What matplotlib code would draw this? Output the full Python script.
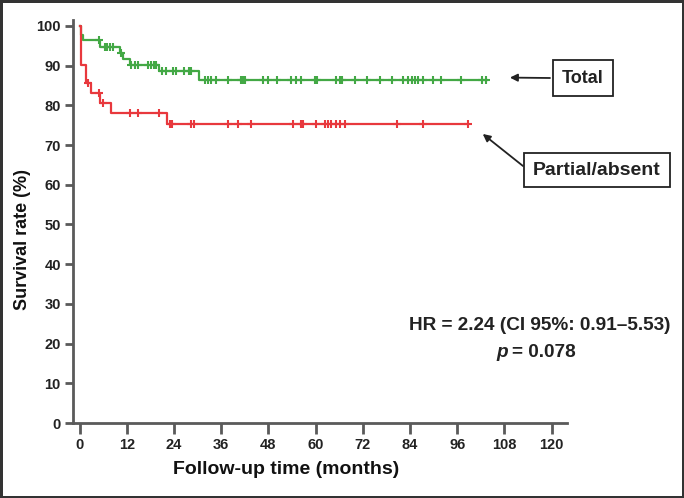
import numpy as np
import matplotlib.pyplot as plt

# Kaplan-Meier steps (months, survival %)
total_drop_t = [0.3, 0.9, 5.2, 10.2, 11.0, 12.7, 20.2, 30.3]
total_surv = [97.8, 96.4, 94.8, 93.2, 91.8, 90.2, 88.6, 86.5]
total_end = 103.6
total_cens = [4.9, 6.4, 7.0, 7.6, 8.4, 10.6, 13.1, 14.0, 14.8, 17.3, 18.2, 18.8, 19.5,
              21.0, 22.0, 23.7, 24.6, 26.5, 27.8, 28.4, 31.8, 32.7, 33.5, 34.8, 37.7,
              41.1, 41.6, 42.0, 46.6, 47.9, 50.2, 53.8, 55.1, 56.4, 59.8, 60.3, 65.3,
              66.2, 66.8, 70.0, 73.0, 76.3, 79.3, 82.3, 83.5, 84.4, 85.2, 86.1, 87.3,
              89.9, 92.0, 97.0, 102.4, 103.4]

part_drop_t = [0.3, 1.5, 2.8, 5.3, 8.1, 22.3]
part_surv = [90.2, 85.6, 83.1, 80.6, 78.0, 75.2]
part_end = 98.8
part_cens = [2.2, 5.0, 5.9, 12.9, 14.8, 20.3, 23.0, 23.4, 28.4, 29.0, 37.7, 40.3, 43.7,
             54.3, 56.4, 56.8, 60.0, 62.3, 63.2, 64.0, 65.3, 66.2, 67.4, 80.7, 87.4, 98.8]

xticks = list(range(0, 121, 12))
yticks = list(range(0, 101, 10))

green = '#43a845'
red = '#e8383d'
axcol = '#5a5a5a'
txtcol = '#222222'

plt.rcParams['font.family'] = ['Liberation Sans', 'DejaVu Sans']

fig = plt.figure(figsize=(6.84, 4.98), dpi=100, linewidth=2.5, edgecolor='#333333')
ax = fig.add_axes([0.1072, 0.1506, 0.7222, 0.8092])


def km(ax, drops, surv, end, cens, color):
    xs = np.array([0] + drops + [end])
    ys = np.array([100] + surv + [surv[-1]])
    ax.step(xs, ys, where='post', color=color, lw=1.6)
    idx = np.searchsorted(xs, cens, side='right') - 1
    ax.plot(cens, ys[idx], ls='none', marker='+', ms=6, mew=1.5, color=color)


km(ax, total_drop_t, total_surv, total_end, total_cens, green)
km(ax, part_drop_t, part_surv, part_end, part_cens, red)

ax.set_xlim(-1.6, 124)
ax.set_ylim(0, 101.5)
ax.set_xticks(xticks)
ax.set_yticks(yticks)
for s in ['top', 'right']:
    ax.spines[s].set_visible(False)
for s in ['left', 'bottom']:
    ax.spines[s].set_color(axcol)
    ax.spines[s].set_linewidth(2)
ax.tick_params(colors=axcol, width=2, labelsize=10.5, labelcolor=txtcol)
ax.tick_params(axis='x', length=8, pad=3)
ax.tick_params(axis='y', length=6, pad=3)
for lab in ax.get_xticklabels() + ax.get_yticklabels():
    lab.set_fontweight('bold')

ax.set_xlabel('Follow-up time (months)', fontsize=14, fontweight='bold', color='#111111')
ax.set_ylabel('Survival rate (%)', fontsize=13, fontweight='bold', color='#111111')
ax.xaxis.set_label_coords(0.431, -0.095)
ax.yaxis.set_label_coords(-0.085, 0.455)

box = dict(boxstyle='square,pad=0.5', fc='white', ec=txtcol, lw=1.3)
arrow = dict(arrowstyle='-|>', color=txtcol, lw=1.3, shrinkA=0, shrinkB=0, mutation_scale=11)

fig.text(562, 498 - 78, 'Total', transform=None, fontsize=13, fontweight='bold',
         color=txtcol, ha='left', va='center', bbox=box)
ax.annotate('', xy=(109.4, 87.0), xycoords='data', xytext=(550, 498 - 78),
            textcoords='figure pixels', arrowprops=arrow)

box2 = dict(boxstyle='square,pad=0.45', fc='white', ec=txtcol, lw=1.3)
fig.text(533, 498 - 170, 'Partial/absent', transform=None, fontsize=14, fontweight='bold',
         color=txtcol, ha='left', va='center', bbox=box2)
ax.annotate('', xy=(102.5, 72.8), xycoords='data', xytext=(523, 498 - 166),
            textcoords='figure pixels', arrowprops=arrow)

fig.text(540 / 684, 1 - 325 / 498, 'HR = 2.24 (CI 95%: 0.91\u20135.53)', ha='center',
         va='center', fontsize=13.7, fontweight='bold', color=txtcol)
fig.text(508 / 684, 1 - 352 / 498, 'p', ha='right', va='center', fontsize=13.7,
         fontweight='bold', style='italic', color=txtcol)
fig.text(512 / 684, 1 - 352 / 498, '= 0.078', ha='left', va='center', fontsize=13.7,
         fontweight='bold', color=txtcol)

fig.savefig('out.png', dpi=100)
